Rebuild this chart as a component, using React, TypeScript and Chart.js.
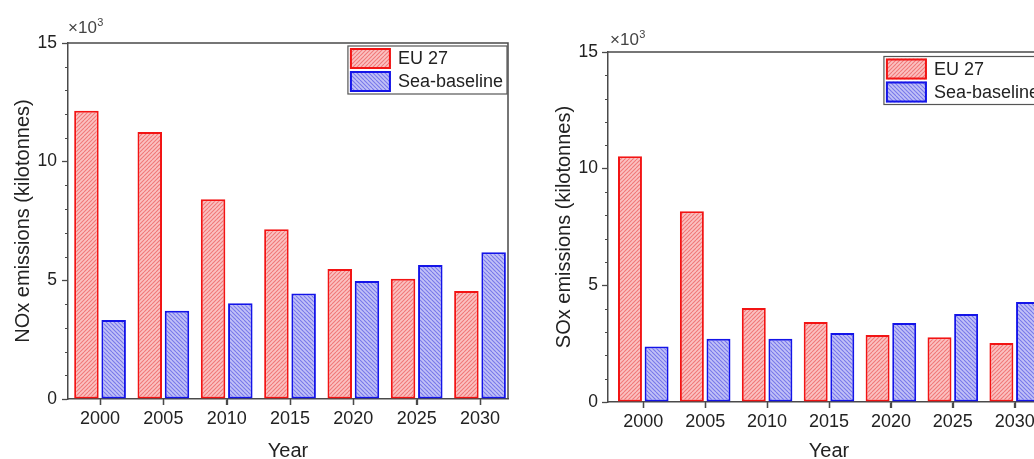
import React, { useEffect, useRef } from 'react';
import { Chart, registerables } from 'chart.js';

Chart.register(...registerables);

const years = [2000, 2005, 2010, 2015, 2020, 2025, 2030];
const noxEU = [12.15, 11.25, 8.42, 7.15, 5.48, 5.07, 4.55];
const noxSea = [3.33, 3.72, 4.03, 4.45, 4.97, 5.65, 6.18];
const soxEU = [10.53, 8.17, 4.03, 3.43, 2.87, 2.77, 2.53];
const soxSea = [2.38, 2.71, 2.71, 2.96, 3.39, 3.77, 4.29];
const yTickValues = [0, 5, 10, 15];
const seriesNames = ['EU 27', 'Sea-baseline'];
const noxTitle = 'NOx emissions (kilotonnes)';
const soxTitle = 'SOx emissions (kilotonnes)';
const xTitle = 'Year';
const multText = '×10';
const multExp = '3';

const FONT = "'Liberation Sans', Arial, sans-serif";
const AXIS = '#4a4a4a';
const TEXT = '#222222';
const RED = 'rgb(242,20,20)';
const BLUE = 'rgb(20,20,232)';

function makePattern(ctx: CanvasRenderingContext2D, base: string, line: string, dir: 1 | -1) {
  const c = document.createElement('canvas');
  c.width = 8;
  c.height = 8;
  const g = c.getContext('2d')!;
  g.fillStyle = base;
  g.fillRect(0, 0, 8, 8);
  g.strokeStyle = line;
  g.lineWidth = 1.1;
  for (let k = -16; k <= 24; k += 4) {
    g.beginPath();
    if (dir === 1) {
      g.moveTo(k, 0);
      g.lineTo(k - 8, 8);
    } else {
      g.moveTo(k, 0);
      g.lineTo(k + 8, 8);
    }
    g.stroke();
  }
  return ctx.createPattern(c, 'repeat')!;
}

interface PanelOpts {
  eu: number[];
  sea: number[];
  yTitle: string;
  xMin: number;
  xMax: number;
  padTop: number;
  padRight: number;
  xHeight: number;
  yTitlePad: number;
  yTickPad: number;
  multDy: number;
  multDx: number;
  legDx: number;
  legDy: number;
}

function buildChart(canvas: HTMLCanvasElement, o: PanelOpts) {
  const ctx = canvas.getContext('2d')!;
  const redPat = makePattern(ctx, '#fbc2c2', '#f07878', 1);
  const bluePat = makePattern(ctx, '#c2c2f7', '#7878ea', -1);
  const fills = [redPat, bluePat];
  const borders = [RED, BLUE];

  const framePlugin = {
    id: 'frameExtras',
    afterDraw(chart: any) {
      const c = chart.ctx as CanvasRenderingContext2D;
      const ca = chart.chartArea;
      const ys = chart.scales.y;
      const xs = chart.scales.x;
      c.save();
      c.strokeStyle = AXIS;
      c.lineWidth = 1.5;
      c.beginPath();
      c.moveTo(ca.left, ca.top);
      c.lineTo(ca.right, ca.top);
      c.lineTo(ca.right, ca.bottom);
      c.stroke();
      // x ticks
      c.lineWidth = 1.3;
      years.forEach((yr) => {
        const px = Math.round(xs.getPixelForValue(yr)) + 0.5;
        c.beginPath();
        c.moveTo(px, ca.bottom);
        c.lineTo(px, ca.bottom + 6);
        c.stroke();
      });
      // minor y ticks
      c.lineWidth = 1;
      for (let v = ys.min; v <= ys.max; v += 1) {
        if (v % 5 === 0) continue;
        const py = Math.round(ys.getPixelForValue(v)) + 0.5;
        c.beginPath();
        c.moveTo(ca.left, py);
        c.lineTo(ca.left - 3, py);
        c.stroke();
      }
      c.fillStyle = '#444';
      c.textBaseline = 'alphabetic';
      c.textAlign = 'left';
      c.font = `17px ${FONT}`;
      const mx = ca.left + o.multDx;
      const my = ca.top - o.multDy;
      c.fillText(multText, mx, my);
      const w = c.measureText(multText).width;
      c.font = `11px ${FONT}`;
      c.fillText(multExp, mx + w + 0.5, my - 7);
      c.font = `18px ${FONT}`;
      const tw = Math.max(...seriesNames.map((s) => c.measureText(s).width));
      const sw = 41, sh = 21, gap = 7;
      const boxW = 2 + sw + gap + tw + 4;
      const boxH = 2 * sh + 6;
      const bx = ca.right - o.legDx - boxW;
      const by = ca.top + o.legDy;
      c.fillStyle = '#ffffff';
      c.fillRect(bx, by, boxW, boxH);
      c.strokeStyle = '#555';
      c.lineWidth = 1.2;
      c.strokeRect(bx, by, boxW, boxH);
      seriesNames.forEach((name, i) => {
        const sx = bx + 2;
        const sy = by + 2 + i * (sh + 2);
        c.fillStyle = fills[i];
        c.fillRect(sx, sy, sw, sh);
        c.strokeStyle = borders[i];
        c.lineWidth = 2;
        c.strokeRect(sx + 1, sy + 1, sw - 2, sh - 2);
        c.fillStyle = TEXT;
        c.textBaseline = 'middle';
        c.fillText(name, sx + sw + gap, sy + sh / 2 + 1);
      });
      c.restore();
    },
  };

  const mk = (vals: number[]) => years.map((yr, i) => ({ x: yr, y: vals[i] }));

  return new Chart(canvas, {
    type: 'bar',
    data: {
      datasets: [o.eu, o.sea].map((vals, i) => ({
        label: seriesNames[i],
        data: mk(vals),
        backgroundColor: fills[i],
        borderColor: borders[i],
        borderWidth: 2,
        borderSkipped: false,
        categoryPercentage: 0.86,
        barPercentage: 0.9,
      })),
    },
    options: {
      responsive: false,
      animation: false,
      devicePixelRatio: 1,
      layout: { padding: { top: o.padTop, right: o.padRight, left: 0, bottom: 0 } },
      plugins: { legend: { display: false }, tooltip: { enabled: false }, title: { display: false } },
      scales: {
        x: {
          type: 'linear',
          min: o.xMin,
          max: o.xMax,
          offset: false,
          afterBuildTicks: (s: any) => {
            s.ticks = years.map((v) => ({ value: v }));
          },
          afterFit: (s: any) => {
            s.height = o.xHeight;
          },
          ticks: {
            callback: (v: any) => String(v),
            autoSkip: false,
            maxRotation: 0,
            padding: 3,
            color: TEXT,
            font: { family: FONT, size: 18 },
          },
          grid: { offset: false, drawOnChartArea: false, drawTicks: true, tickLength: 6, color: AXIS, tickWidth: 1.3 },
          border: { color: AXIS, width: 1.5 },
          title: {
            display: true,
            text: xTitle,
            color: TEXT,
            font: { family: FONT, size: 20, lineHeight: '16px' as any },
            padding: { top: 0, bottom: 0 },
          },
        },
        y: {
          type: 'linear',
          min: 0,
          max: 15,
          afterBuildTicks: (s: any) => {
            s.ticks = yTickValues.map((v) => ({ value: v }));
          },
          afterFit: (s: any) => {
            s.width = 68;
          },
          ticks: {
            callback: (v: any) => String(v),
            padding: o.yTickPad,
            color: TEXT,
            font: { family: FONT, size: 17.5 },
          },
          grid: { drawOnChartArea: false, drawTicks: true, tickLength: 6, color: AXIS, tickWidth: 1.3 },
          border: { color: AXIS, width: 1.5 },
          title: {
            display: true,
            text: o.yTitle,
            color: TEXT,
            font: { family: FONT, size: 20 },
            padding: { top: o.yTitlePad, bottom: 0 },
          },
        },
      },
    },
    plugins: [framePlugin],
  } as any);
}

export default function App() {
  const leftRef = useRef<HTMLCanvasElement>(null);
  const rightRef = useRef<HTMLCanvasElement>(null);

  useEffect(() => {
    const a = buildChart(leftRef.current!, {
      eu: noxEU,
      sea: noxSea,
      yTitle: noxTitle,
      xMin: 1997.47,
      xMax: 2032.21,
      padTop: 43,
      padRight: 22,
      xHeight: 60,
      yTitlePad: 11,
      yTickPad: 5,
      multDy: 10,
      multDx: 0,
      legDx: 1,
      legDy: 3,
    });
    const b = buildChart(rightRef.current!, {
      eu: soxEU,
      sea: soxSea,
      yTitle: soxTitle,
      xMin: 1997.15,
      xMax: 2032.85,
      padTop: 52,
      padRight: 10,
      xHeight: 57,
      yTitlePad: 12,
      yTickPad: 4,
      multDy: 7,
      multDx: 2,
      legDx: 7,
      legDy: 4.5,
    });
    return () => {
      a.destroy();
      b.destroy();
    };
  }, []);

  return (
    <div
      style={{
        position: 'fixed',
        left: 0,
        top: 0,
        width: 1034,
        height: 459,
        overflow: 'hidden',
        background: '#fff',
      }}
    >
      <canvas
        ref={leftRef}
        width={530}
        height={459}
        style={{ position: 'absolute', left: 0, top: 0, width: 530, height: 459 }}
      />
      <canvas
        ref={rightRef}
        width={520}
        height={459}
        style={{ position: 'absolute', left: 540, top: 0, width: 520, height: 459 }}
      />
    </div>
  );
}
